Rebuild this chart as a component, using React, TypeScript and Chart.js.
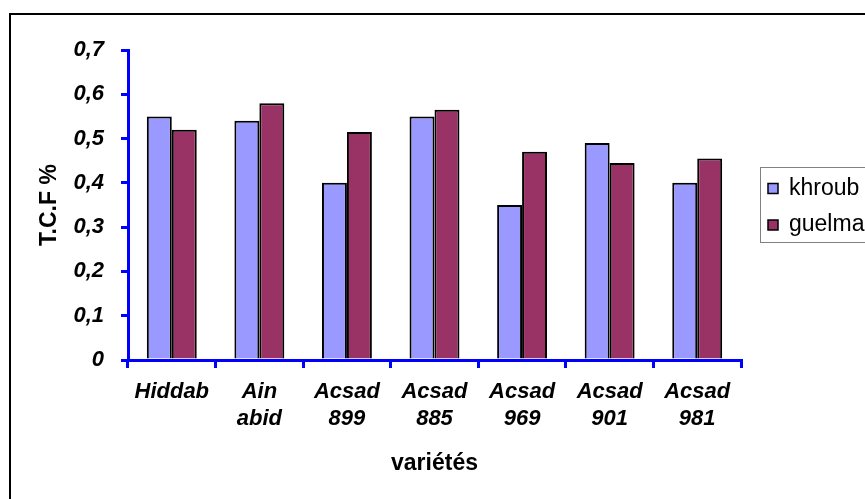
import React, { useEffect, useRef } from "react";
import { Chart, registerables } from "chart.js";

Chart.register(...registerables);

const categories: string[][] = [
  ["Hiddab"],
  ["Ain", "abid"],
  ["Acsad", "899"],
  ["Acsad", "885"],
  ["Acsad", "969"],
  ["Acsad", "901"],
  ["Acsad", "981"],
];

const khroub = [0.55, 0.54, 0.4, 0.55, 0.35, 0.49, 0.4];
const guelma = [0.52, 0.58, 0.515, 0.565, 0.47, 0.445, 0.455];

const seriesNames = ["khroub", "guelma"];
const seriesColors = ["#9999FF", "#993366"];

const yTitle = "T.C.F %";
const xTitle = "variétés";

const FONT = "'Liberation Sans', Arial, Helvetica, sans-serif";
const AXIS_BLUE = "#0000FF";

// Outer frame around the whole chart
const framePlugin = {
  id: "frame",
  beforeDraw(chart: any) {
    const { ctx } = chart;
    ctx.save();
    ctx.fillStyle = "#ffffff";
    ctx.fillRect(0, 0, chart.width, chart.height);
    ctx.strokeStyle = "#000000";
    ctx.lineWidth = 2;
    ctx.strokeRect(10, 14, chart.width + 20, chart.height + 20);
    ctx.restore();
  },
};

// Boxed legend on the right
const boxLegendPlugin = {
  id: "boxLegend",
  afterDraw(chart: any) {
    const { ctx } = chart;
    ctx.save();
    ctx.fillStyle = "#ffffff";
    ctx.fillRect(760.5, 167.5, 200, 75);
    ctx.strokeStyle = "#808080";
    ctx.lineWidth = 1;
    ctx.strokeRect(760.5, 167.5, 200, 75);
    const rows = [188.5, 225];
    chart.data.datasets.forEach((ds: any, i: number) => {
      const cy = rows[i];
      ctx.fillStyle = ds.backgroundColor;
      ctx.fillRect(768, cy - 5, 10, 10);
      ctx.strokeStyle = "#000000";
      ctx.lineWidth = 1.5;
      ctx.strokeRect(768, cy - 5, 10, 10);
      ctx.fillStyle = "#000000";
      ctx.font = `23px ${FONT}`;
      ctx.textBaseline = "alphabetic";
      ctx.textAlign = "left";
      ctx.fillText(ds.label, 789, cy + 6);
    });
    ctx.restore();
  },
};

export default function App() {
  const canvasRef = useRef<HTMLCanvasElement | null>(null);

  useEffect(() => {
    if (!canvasRef.current) return;
    const chart = new Chart(canvasRef.current, {
      type: "bar",
      data: {
        labels: categories,
        datasets: [
          {
            label: seriesNames[0],
            data: khroub,
            backgroundColor: seriesColors[0],
            borderColor: "#000000",
            borderWidth: 2,
          },
          {
            label: seriesNames[1],
            data: guelma,
            backgroundColor: seriesColors[1],
            borderColor: "#000000",
            borderWidth: 2,
          },
        ],
      },
      options: {
        animation: false,
        responsive: false,
        devicePixelRatio: 1,
        layout: { padding: { top: 50, right: 124, left: 0, bottom: 0 } },
        datasets: {
          bar: { categoryPercentage: 0.57, barPercentage: 1 },
        },
        plugins: {
          legend: { display: false },
          tooltip: { enabled: false },
        },
        scales: {
          x: {
            afterFit: (s: any) => {
              s.height = 139;
            },
            grid: {
              drawOnChartArea: false,
              drawTicks: true,
              tickLength: 8,
              color: AXIS_BLUE,
              lineWidth: 3,
            },
            border: { color: AXIS_BLUE, width: 3 },
            ticks: {
              color: "#000000",
              padding: 11,
              maxRotation: 0,
              autoSkip: false,
              font: { family: FONT, size: 22, style: "italic", weight: "bold", lineHeight: 1.2 },
            },
            title: {
              display: true,
              text: xTitle,
              color: "#000000",
              padding: { top: 0, bottom: 22 },
              font: { family: FONT, size: 23, weight: "bold", lineHeight: 1.2 },
            },
          },
          y: {
            min: 0,
            max: 0.7,
            afterFit: (s: any) => {
              s.width = 128;
            },
            grid: {
              drawOnChartArea: false,
              drawTicks: true,
              tickLength: 7,
              color: AXIS_BLUE,
              lineWidth: 3,
            },
            border: { color: AXIS_BLUE, width: 3 },
            ticks: {
              stepSize: 0.1,
              color: "#000000",
              padding: 17,
              font: { family: FONT, size: 22, style: "italic", weight: "bold" },
              callback: (v: any) => {
                const n = Number(v);
                return n === 0 ? "0" : n.toFixed(1).replace(".", ",");
              },
            },
            title: {
              display: true,
              text: yTitle,
              color: "#000000",
              padding: { top: 36, bottom: 0 },
              font: { family: FONT, size: 23, weight: "bold", lineHeight: 1.2 },
            },
          },
        },
      },
      plugins: [framePlugin, boxLegendPlugin],
    });
    return () => chart.destroy();
  }, []);

  return (
    <div style={{ position: "fixed", left: 0, top: 0, width: 865, height: 499, background: "#fff" }}>
      <canvas ref={canvasRef} width={865} height={499} style={{ display: "block", width: 865, height: 499 }} />
    </div>
  );
}
